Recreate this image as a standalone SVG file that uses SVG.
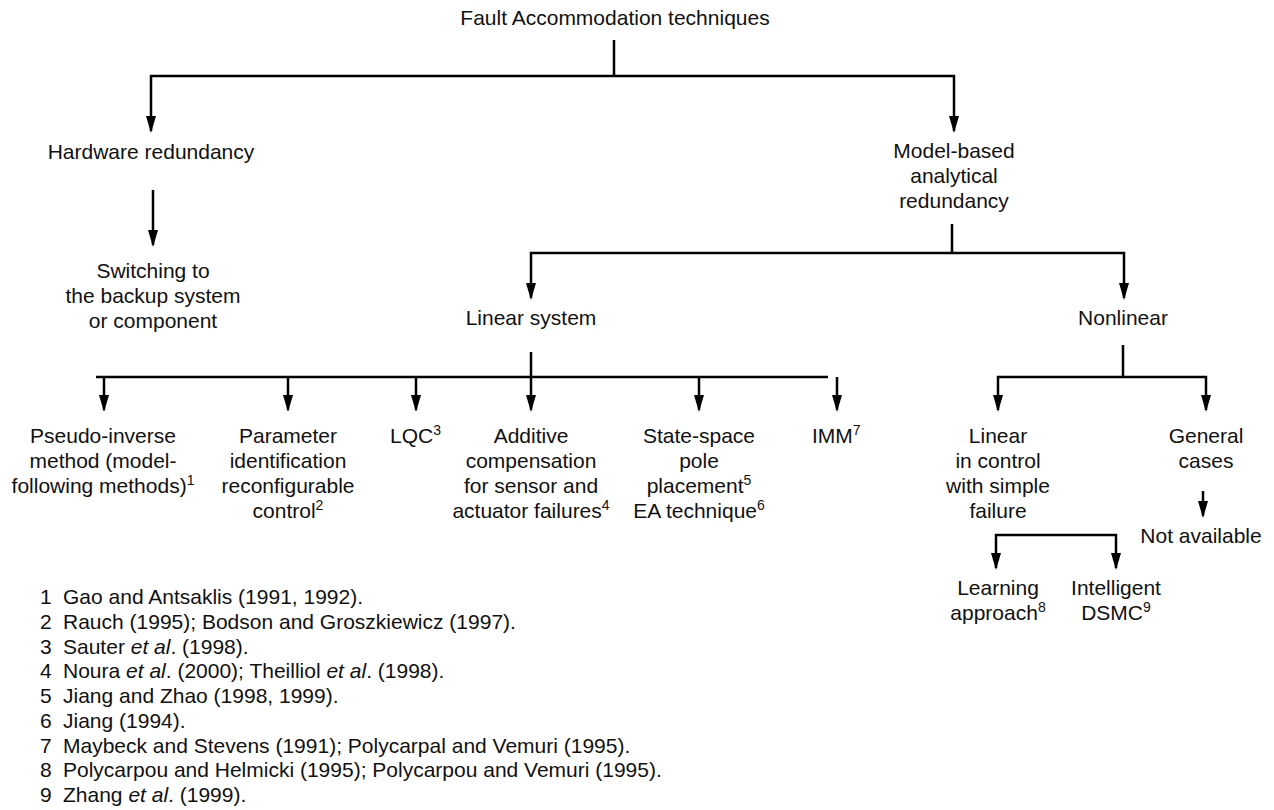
<svg xmlns="http://www.w3.org/2000/svg" width="1274" height="810" viewBox="0 0 1274 810">
<style>
text{font-family:"Liberation Sans",Arial,Helvetica,sans-serif;font-size:21px;fill:#111;}
.c{text-anchor:middle;}
.sup{font-size:14px;}
.ln{fill:none;stroke:#000;stroke-width:2.5;stroke-linejoin:miter;stroke-linecap:butt;}
.ar{marker-end:url(#ah);}
</style>
<defs>
<marker id="ah" markerUnits="userSpaceOnUse" viewBox="0 -5 17 10" refX="15" refY="0" markerWidth="17" markerHeight="10" orient="auto">
<path d="M0,-5 L17,0 L0,5 z" fill="#000"/>
</marker>
</defs>
<rect width="1274" height="810" fill="#fff"/>
<g id="connectors">
<path class="ln" d="M614,40 V76"/>
<path class="ln ar" d="M614,76 H151 V131"/>
<path class="ln ar" d="M614,76 H954 V131"/>
<path class="ln ar" d="M153,190 V245"/>
<path class="ln" d="M952,224 V253"/>
<path class="ln ar" d="M952,253 H531 V298"/>
<path class="ln ar" d="M952,253 H1124 V298"/>
<path class="ln" d="M531,352 V377"/>
<path class="ln" d="M96,377 H828"/>
<path class="ln ar" d="M104,377 V410"/>
<path class="ln ar" d="M288,377 V410"/>
<path class="ln ar" d="M416,377 V410"/>
<path class="ln ar" d="M531,377 V410"/>
<path class="ln ar" d="M699,377 V410"/>
<path class="ln ar" d="M837,377 V410"/>
<path class="ln" d="M1123,345 V377"/>
<path class="ln ar" d="M1123,377 H998 V410"/>
<path class="ln ar" d="M1123,377 H1206 V410"/>
<path class="ln ar" d="M1203,491 V516"/>
<path class="ln ar" d="M1056,535 H996 V568"/>
<path class="ln ar" d="M1056,535 H1116 V568"/>
</g>
<g id="n-title"><text class="c" x="615" y="25">Fault Accommodation techniques</text></g>
<g id="n-hardware"><text class="c" x="151" y="159">Hardware redundancy</text></g>
<g id="n-model"><text class="c" x="954" y="158">Model-based</text><text class="c" x="954" y="183">analytical</text><text class="c" x="954" y="208">redundancy</text></g>
<g id="n-switch"><text class="c" x="153" y="278">Switching to</text><text class="c" x="153" y="303">the backup system</text><text class="c" x="153" y="328">or component</text></g>
<g id="n-linear"><text class="c" x="531" y="325">Linear system</text></g>
<g id="n-nonlinear"><text class="c" x="1123" y="325">Nonlinear</text></g>
<g id="n-pseudo"><text class="c" x="103" y="443">Pseudo-inverse</text><text class="c" x="103" y="468">method (model-</text><text class="c" x="103" y="493">following methods)<tspan class="sup" dy="-8">1</tspan></text></g>
<g id="n-param"><text class="c" x="288" y="443">Parameter</text><text class="c" x="288" y="468">identification</text><text class="c" x="288" y="493">reconfigurable</text><text class="c" x="288" y="518">control<tspan class="sup" dy="-8">2</tspan></text></g>
<g id="n-lqc"><text x="390" y="443">LQC<tspan class="sup" dy="-8">3</tspan></text></g>
<g id="n-additive"><text class="c" x="531" y="443">Additive</text><text class="c" x="531" y="468">compensation</text><text class="c" x="531" y="493">for sensor and</text><text class="c" x="531" y="518">actuator failures<tspan class="sup" dy="-8">4</tspan></text></g>
<g id="n-statespace"><text class="c" x="699" y="443">State-space</text><text class="c" x="699" y="468">pole</text><text class="c" x="699" y="493">placement<tspan class="sup" dy="-8">5</tspan></text><text class="c" x="699" y="518">EA technique<tspan class="sup" dy="-8">6</tspan></text></g>
<g id="n-imm"><text x="812" y="443">IMM<tspan class="sup" dy="-8">7</tspan></text></g>
<g id="n-linctrl"><text class="c" x="998" y="443">Linear</text><text class="c" x="998" y="468">in control</text><text class="c" x="998" y="493">with simple</text><text class="c" x="998" y="518">failure</text></g>
<g id="n-general"><text class="c" x="1206" y="443">General</text><text class="c" x="1206" y="468">cases</text></g>
<g id="n-na"><text class="c" x="1201" y="543">Not available</text></g>
<g id="n-learning"><text class="c" x="998" y="595">Learning</text><text class="c" x="998" y="620">approach<tspan class="sup" dy="-8">8</tspan></text></g>
<g id="n-intelligent"><text class="c" x="1116" y="595">Intelligent</text><text class="c" x="1116" y="620">DSMC<tspan class="sup" dy="-8">9</tspan></text></g>
<g id="footnotes">
<text x="40" y="604">1</text><text x="63" y="604">Gao and Antsaklis (1991, 1992).</text>
<text x="40" y="629">2</text><text x="63" y="629">Rauch (1995); Bodson and Groszkiewicz (1997).</text>
<text x="40" y="654">3</text><text x="63" y="654">Sauter <tspan font-style="italic">et al</tspan>. (1998).</text>
<text x="40" y="678">4</text><text x="63" y="678">Noura <tspan font-style="italic">et al</tspan>. (2000); Theilliol <tspan font-style="italic">et al</tspan>. (1998).</text>
<text x="40" y="703">5</text><text x="63" y="703">Jiang and Zhao (1998, 1999).</text>
<text x="40" y="728">6</text><text x="63" y="728">Jiang (1994).</text>
<text x="40" y="753">7</text><text x="63" y="753">Maybeck and Stevens (1991); Polycarpal and Vemuri (1995).</text>
<text x="40" y="777">8</text><text x="63" y="777">Polycarpou and Helmicki (1995); Polycarpou and Vemuri (1995).</text>
<text x="40" y="802">9</text><text x="63" y="802">Zhang <tspan font-style="italic">et al</tspan>. (1999).</text>
</g>
</svg>
